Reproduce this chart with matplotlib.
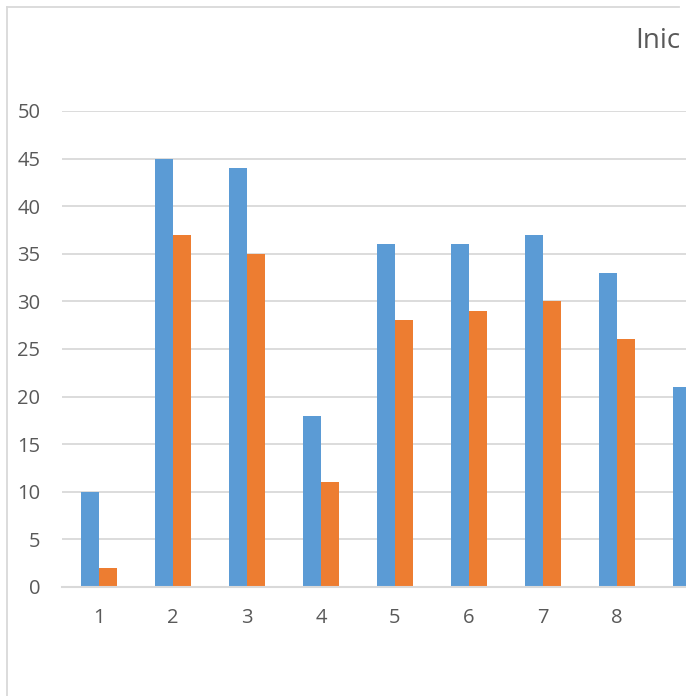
import numpy as np
import matplotlib
matplotlib.use("Agg")
import matplotlib.pyplot as plt
from matplotlib.lines import Line2D

# data (9th orange bar is outside the visible crop)
categories = [1, 2, 3, 4, 5, 6, 7, 8, 9]
series_blue = [10, 45, 44, 18, 36, 36, 37, 33, 21]
series_orange = [2, 37, 35, 11, 28, 29, 30, 26, np.nan]
tick_labels = ["1", "2", "3", "4", "5", "6", "7", "8", "9"]
title = "Inic"

W, H = 686, 696
plt.rcParams["font.family"] = ["Open Sans", "DejaVu Sans"]
fig = plt.figure(figsize=(W / 100, H / 100), dpi=100)

# plot area: left 62px, right beyond the crop; y 0 at 587px, 50 at 111px
ax = fig.add_axes([62 / W, (H - 587) / H, (W - 62) / W, (587 - 111) / H])

x = np.array(categories, dtype=float)
bw = 0.243
ax.bar(x - bw / 2, series_blue, width=bw, color="#5b9bd5", zorder=3)
ax.bar(x + bw / 2, series_orange, width=bw, color="#ed7d31", zorder=3)

ax.set_xlim(0.5, 1 + (W - 99) / 74)
ax.set_ylim(0, 50)
ax.set_yticks(range(0, 51, 5))
ax.set_xticks(x[:8])
ax.set_xticklabels(tick_labels[:8])

ax.grid(axis="y", color="#d9d9d9", linewidth=1.3, zorder=0)
for s in ["top", "right", "left"]:
    ax.spines[s].set_visible(False)
ax.spines["bottom"].set_color("#d9d9d9")
ax.spines["bottom"].set_linewidth(1.5)
ax.spines["bottom"].set_zorder(4)

ax.tick_params(axis="y", length=0, pad=15.5, labelsize=14.5, labelcolor="#595959")
ax.tick_params(axis="x", length=0, pad=15, labelsize=14.5, labelcolor="#595959")

# chart border (cropped)
fig.add_artist(Line2D([7 / W, 7 / W], [0, 1 - 7 / H], color="#d9d9d9", linewidth=1.3,
                      transform=fig.transFigure))
fig.add_artist(Line2D([7 / W, 679 / W], [1 - 7 / H, 1 - 7 / H], color="#d9d9d9", linewidth=1.3,
                      transform=fig.transFigure))

fig.text(635 / W, 1 - 41 / H, title, fontsize=20, color="#595959", ha="left", va="center")

fig.savefig("out.png", dpi=100)
